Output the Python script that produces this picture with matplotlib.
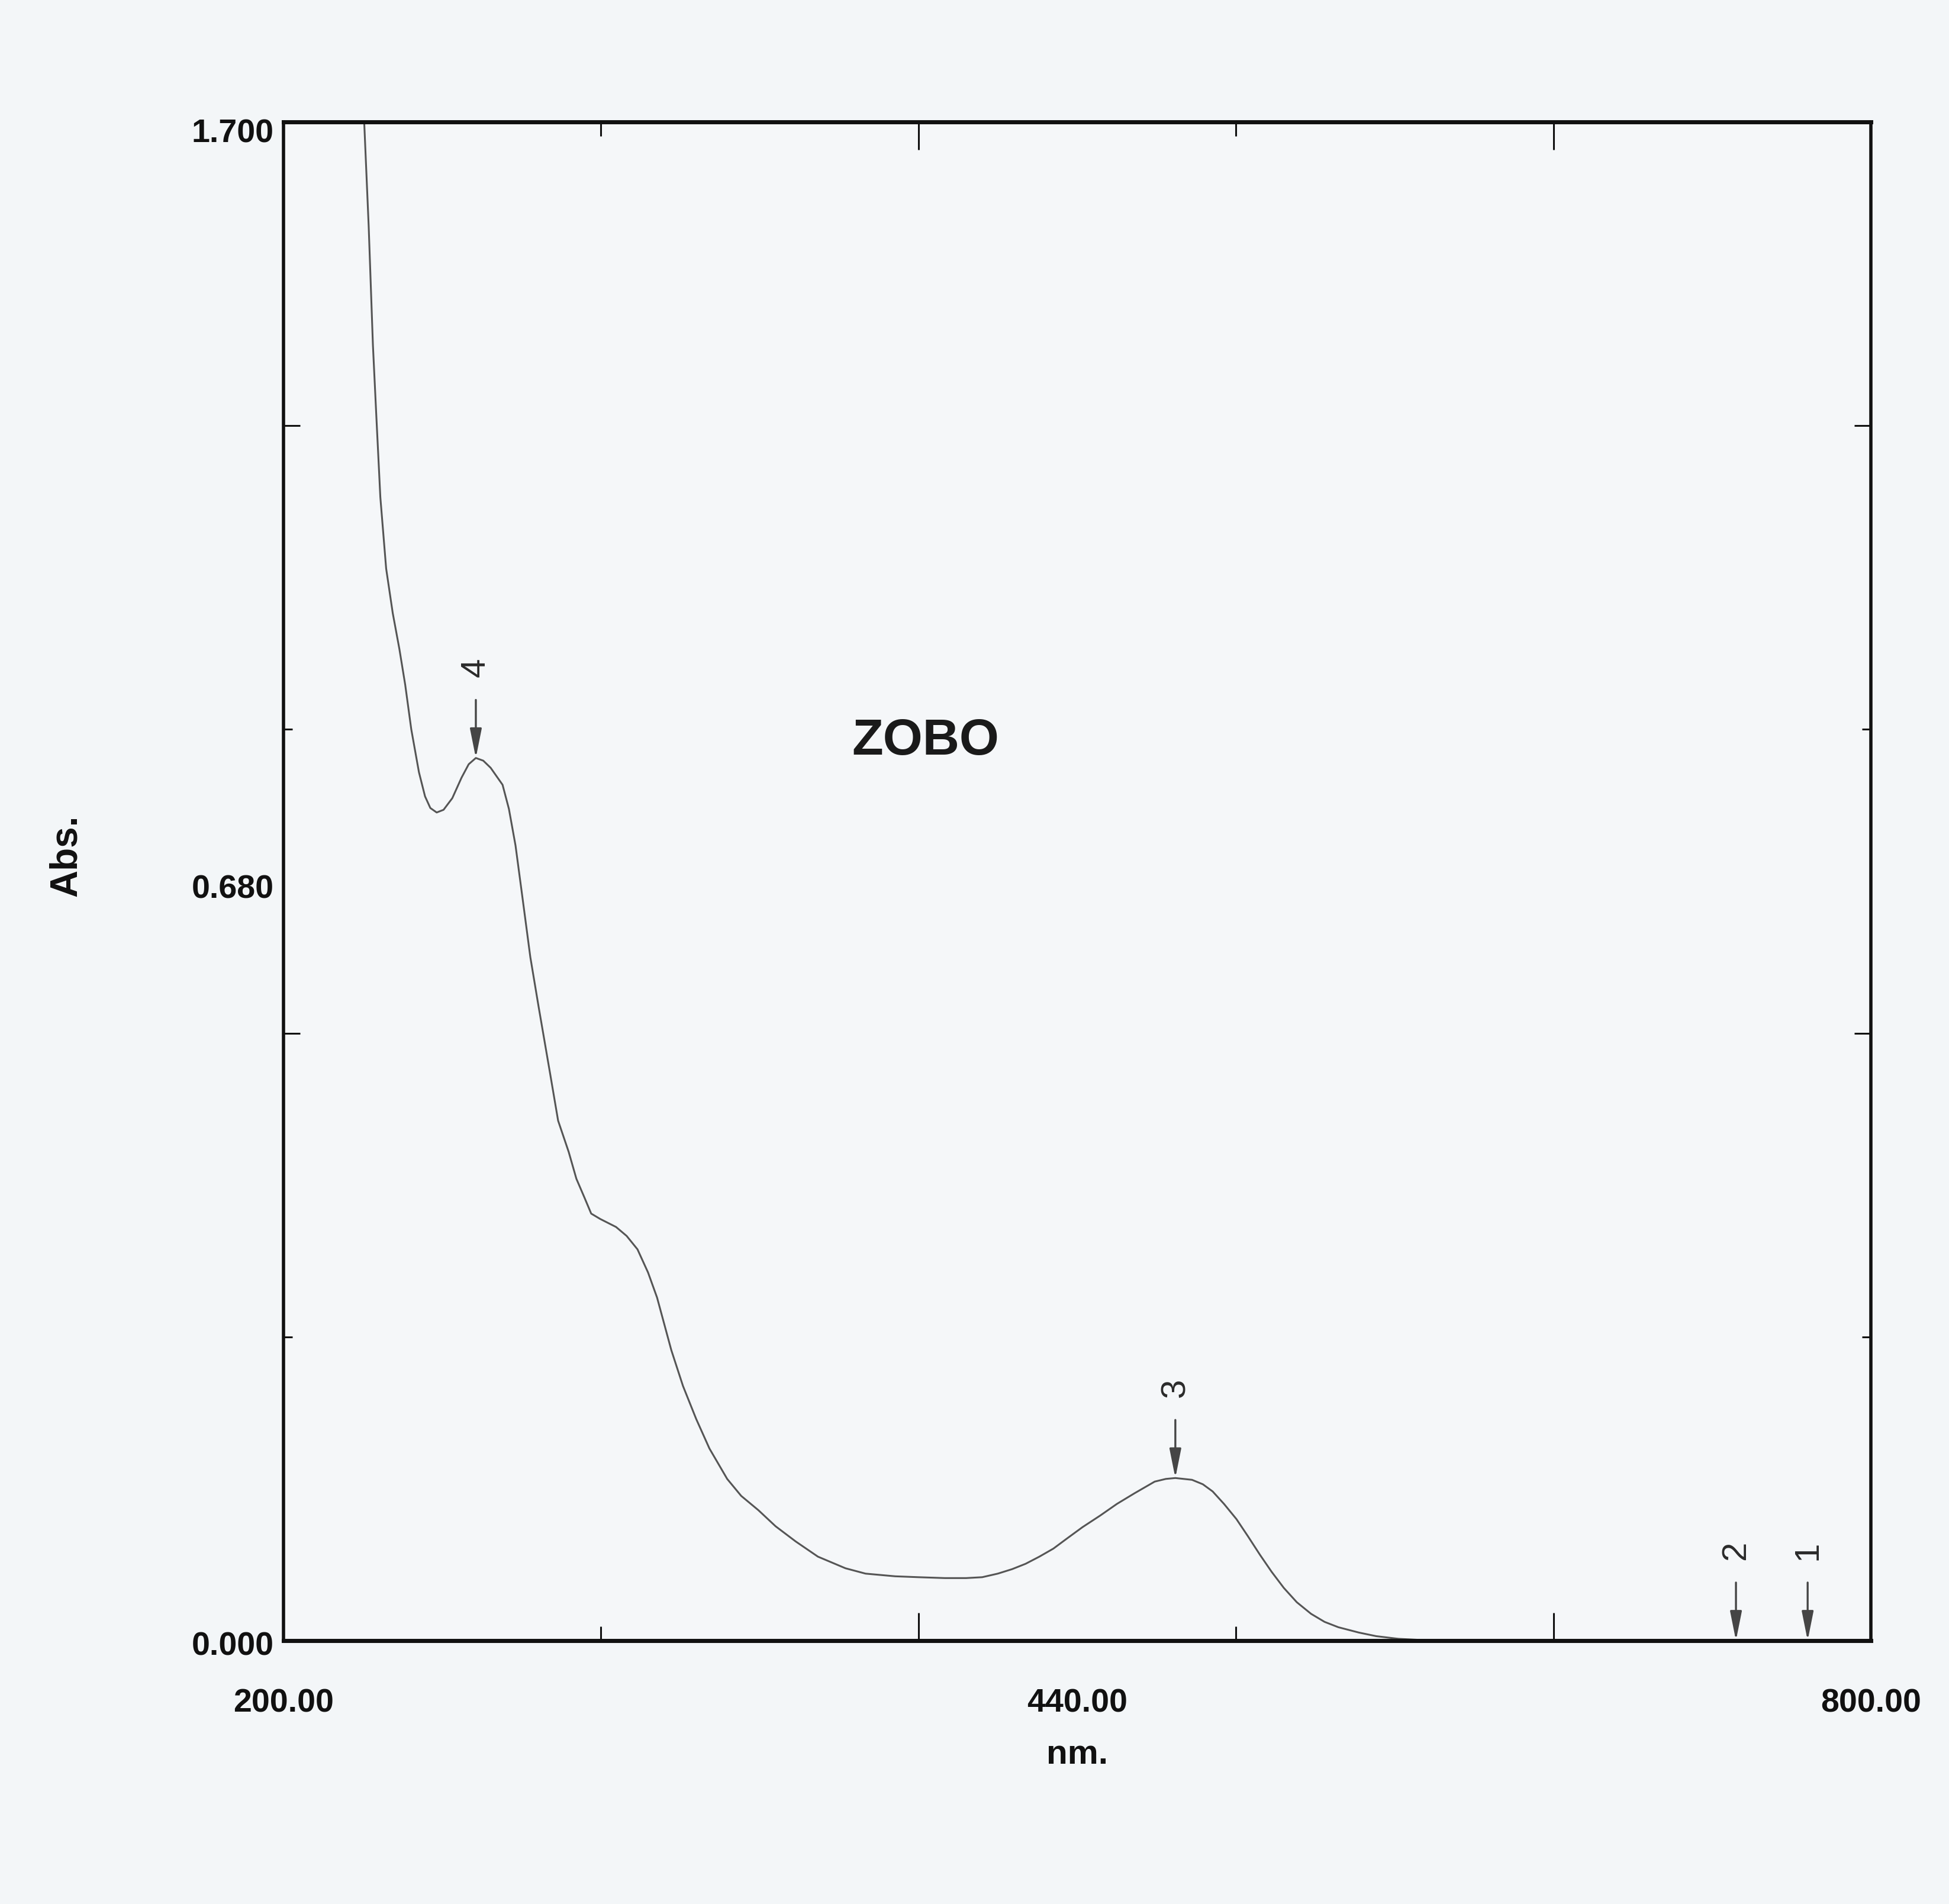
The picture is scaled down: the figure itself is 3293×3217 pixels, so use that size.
import matplotlib
matplotlib.use("Agg")
import matplotlib.pyplot as plt
from matplotlib.ticker import FixedLocator, NullFormatter

# UV-Vis spectrum of ZOBO
wavelength = [229.0, 230.5, 232.2, 233.8, 235.1, 236.6, 238.8, 241.3, 243.8, 246.0,
              248.3, 251.2, 253.5, 255.5, 257.9, 260.5, 263.8, 267.3, 270.0, 272.7,
              275.5, 278.3, 282.8, 285.2, 287.7, 290.4, 293.3, 296.4, 300.7, 303.8,
              307.8, 310.7, 313.6, 316.3, 319.7, 325.7, 329.7, 333.8, 337.8, 341.2,
              346.6, 351.0, 356.0, 361.0, 367.7, 373.0, 379.5, 386.0, 393.6, 402.0,
              412.4, 420.0, 431.2, 440.0, 450.0, 458.0, 464.1, 470.0, 475.4, 480.5,
              485.7, 491.0, 496.0, 502.0, 508.7, 515.0, 521.7, 529.3, 533.5, 537.1,
              543.4, 547.5, 551.2, 555.5, 560.2, 564.5, 569.1, 573.5, 578.1, 583.0,
              588.4, 593.5, 598.7, 606.5, 613.0, 621.5, 635.0, 660.0, 700.0, 750.0,
              800.0]
absorbance = [1.780, 1.700, 1.583, 1.450, 1.370, 1.280, 1.200, 1.150, 1.110, 1.070,
              1.020, 0.972, 0.945, 0.932, 0.927, 0.930, 0.943, 0.966, 0.981, 0.988,
              0.985, 0.977, 0.958, 0.931, 0.890, 0.830, 0.765, 0.710, 0.636, 0.582,
              0.547, 0.517, 0.497, 0.478, 0.472, 0.463, 0.453, 0.438, 0.412, 0.384,
              0.325, 0.285, 0.248, 0.215, 0.181, 0.162, 0.146, 0.128, 0.111, 0.094,
              0.081, 0.075, 0.072, 0.071, 0.070, 0.070, 0.071, 0.075, 0.080, 0.086,
              0.094, 0.103, 0.114, 0.127, 0.140, 0.153, 0.165, 0.178, 0.181, 0.182,
              0.180, 0.175, 0.167, 0.153, 0.136, 0.117, 0.096, 0.077, 0.059, 0.043,
              0.030, 0.021, 0.015, 0.009, 0.005, 0.002, 0.000, 0.000, 0.000, 0.000,
              0.000]

# peak pick markers
peak_no = ["1", "2", "3", "4"]
peak_nm = [776.1, 749.0, 537.1, 272.7]
peak_abs = [0.000, 0.000, 0.182, 0.988]

x_min, x_max = 200.0, 800.0
y_min, y_max = 0.0, 1.7
x_labels = ["200.00", "440.00", "800.00"]
y_labels = ["0.000", "0.680", "1.700"]

narrow = ["Liberation Sans Narrow", "Liberation Sans", "DejaVu Sans"]
ink = "#111111"

fig = plt.figure(figsize=(32.93, 32.17), dpi=100, facecolor="#f3f6f8")
ax = fig.add_axes([0.14546, 0.13833, 0.81446, 0.79764])
ax.set_facecolor("#f5f7f9")

ax.plot(wavelength, absorbance, color="#555555", lw=2.2)
ax.set_xlim(x_min, x_max)
ax.set_ylim(y_min, y_max)

# frame with inward ticks on every side
for side in ["top", "bottom"]:
    ax.spines[side].set_linewidth(5)
for side in ["left", "right"]:
    ax.spines[side].set_linewidth(4)
for s in ax.spines.values():
    s.set_color(ink)

ax.xaxis.set_major_locator(FixedLocator([440, 680]))
ax.xaxis.set_minor_locator(FixedLocator([320, 560]))
ax.yaxis.set_major_locator(FixedLocator([0.68, 1.36]))
ax.yaxis.set_minor_locator(FixedLocator([0.34, 1.02]))
for a in (ax.xaxis, ax.yaxis):
    a.set_major_formatter(NullFormatter())
    a.set_minor_formatter(NullFormatter())
ax.tick_params(axis="x", which="major", direction="in", length=34, width=2.2,
               color=ink, top=True, bottom=True)
ax.tick_params(axis="x", which="minor", direction="in", length=17, width=2.2,
               color=ink, top=True, bottom=True)
ax.tick_params(axis="y", which="major", direction="in", length=20, width=2.2,
               color=ink, left=True, right=True)
ax.tick_params(axis="y", which="minor", direction="in", length=11, width=2.2,
               color=ink, left=True, right=True)

# printout style axis labels: ends and middle only
for frac, lab in zip([0.0, 0.5, 1.0], x_labels):
    ax.text(frac, -0.047, lab, transform=ax.transAxes, ha="center", va="baseline",
            family=narrow, fontweight="bold", fontsize=40, color=ink)
for frac, lab in zip([-0.0097, 0.4887, 0.9867], y_labels):
    ax.text(-0.006, frac, lab, transform=ax.transAxes, ha="right", va="baseline",
            family=narrow, fontweight="bold", fontsize=40, color=ink)
ax.text(0.5, -0.081, "nm.", transform=ax.transAxes, ha="center", va="baseline",
        family=narrow, fontweight="bold", fontsize=42, color=ink)
ax.text(-0.137, 0.517, "Abs.", transform=ax.transAxes, ha="center", va="center",
        rotation=90, family=narrow, fontweight="bold", fontsize=46, color=ink)
ax.text(0.4045, 0.5834, "ZOBO", transform=ax.transAxes, ha="center", va="baseline",
        family=narrow, fontweight="bold", fontsize=62, color="#1a1a1a")

# peak arrows
for num, nm, a in zip(peak_no, peak_nm, peak_abs):
    top = a + 0.065
    ax.annotate("", xy=(nm, a), xytext=(nm, top),
                arrowprops=dict(arrowstyle="-|>,head_length=1.5,head_width=0.3",
                                mutation_scale=20, color="#454545", lw=2.4,
                                shrinkA=0, shrinkB=0),
                annotation_clip=False)
    ax.text(nm, top + 0.036, num, rotation=90, ha="center", va="center",
            family=narrow, fontsize=42, color="#2a2a2a")

fig.savefig("out.png", dpi=100, facecolor=fig.get_facecolor())
